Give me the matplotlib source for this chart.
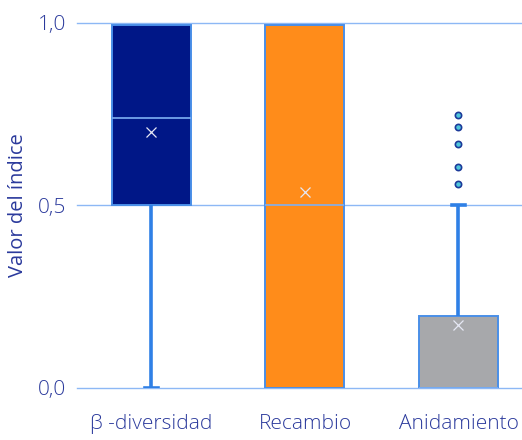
import matplotlib
matplotlib.use("Agg")
import matplotlib.pyplot as plt

# Summary statistics for each index
categories = ["β -diversidad", "Recambio", "Anidamiento"]
q1 = [0.50, 0.00, 0.00]
medians = [0.74, 0.50, 0.00]
q3 = [0.995, 0.995, 0.197]
whisker_lo = [0.00, 0.00, 0.00]
whisker_hi = [0.995, 0.995, 0.50]
means = [0.70, 0.537, 0.17]
outliers = [[], [], [0.748, 0.713, 0.668, 0.604, 0.559]]

y_ticks = [0.0, 0.5, 1.0]
y_tick_labels = ["0,0", "0,5", "1,0"]

box_colors = ["#001787", "#FF8C1A", "#A7A8AB"]
edge_color = "#4A8FE8"
whisker_color = "#2F80E6"
grid_color = "#8DB8F5"
text_color = "#2B3A9C"

plt.rcParams["font.family"] = ["Open Sans", "DejaVu Sans"]
plt.rcParams["font.weight"] = "light"

fig = plt.figure(figsize=(5.22, 4.40), dpi=100)
ax = fig.add_axes([77 / 522, 1 - 387.5 / 440, 1 - 77 / 522, (387.5 - 22.7) / 440])

stats = []
for i, name in enumerate(categories):
    stats.append(dict(label=name, q1=q1[i], med=medians[i], q3=q3[i],
                      whislo=whisker_lo[i], whishi=whisker_hi[i],
                      mean=means[i], fliers=outliers[i]))

positions = [0, 1, 2]
res = ax.bxp(stats, positions=positions, widths=0.515, patch_artist=True,
             showmeans=True, capwidths=0.08,
             boxprops=dict(edgecolor=edge_color, linewidth=1.4),
             medianprops=dict(color="#7FB0F2", linewidth=1.2),
             whiskerprops=dict(color=whisker_color, linewidth=2.6, solid_capstyle="butt"),
             capprops=dict(color=whisker_color, linewidth=2.6),
             meanprops=dict(marker="x", markersize=7, markeredgecolor="#E6E8F5",
                            markeredgewidth=0.9, linestyle="none"),
             flierprops=dict(marker="o", markersize=4.5, markerfacecolor="#4FC6DA",
                             markeredgecolor="#1C3A9A", markeredgewidth=1.2,
                             linestyle="none"))

for patch, color in zip(res["boxes"], box_colors):
    patch.set_facecolor(color)
    patch.set_zorder(2)

# hide whiskers and caps that have zero length
for i in range(len(categories)):
    for j, (a, b) in enumerate([(whisker_lo[i], q1[i]), (whisker_hi[i], q3[i])]):
        if abs(a - b) < 1e-9:
            res["whiskers"][2 * i + j].set_visible(False)
            res["caps"][2 * i + j].set_visible(False)

for y in y_ticks:
    ax.axhline(y, color=grid_color, linewidth=1.0, zorder=0, clip_on=False)

ax.set_xlim(-0.485, 2.414)
ax.set_ylim(0, 1.0)
ax.set_yticks(y_ticks)
ax.set_yticklabels(y_tick_labels)
ax.set_xticks(positions)
ax.set_xticklabels(categories)
ax.tick_params(axis="y", length=0, pad=8, labelsize=15, labelcolor=text_color)
ax.tick_params(axis="x", length=0, pad=19, labelsize=15, labelcolor=text_color)
for s in ax.spines.values():
    s.set_visible(False)

ax.set_ylabel("Valor del índice", color=text_color, fontsize=14.5, labelpad=7)

fig.savefig("out.png", dpi=100)
